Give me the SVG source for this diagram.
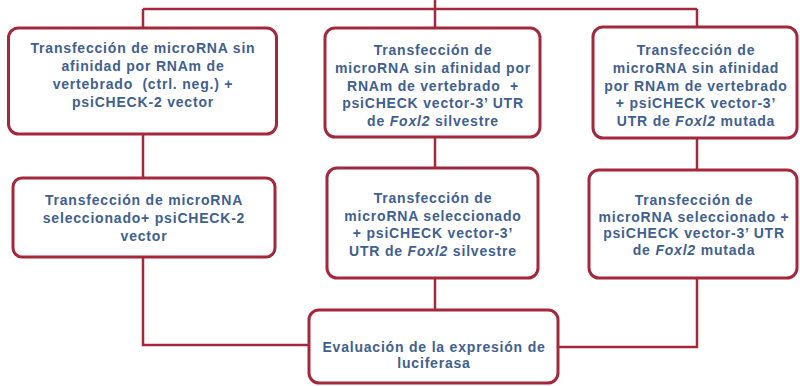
<svg xmlns="http://www.w3.org/2000/svg" width="800" height="386" viewBox="0 0 800 386">
<style>
.box{fill:#ffffff;stroke:#a3283c;stroke-width:3}
.ln{fill:none;stroke:#a3283c;stroke-width:2.5}
text{font-family:"Liberation Sans",Arial,sans-serif;font-weight:bold;font-size:14px;fill:#40608f;text-anchor:middle;letter-spacing:0.8px}
.it{font-style:italic}
</style>
<rect width="800" height="386" fill="#ffffff"/>
<g id="connectors">
<path class="ln" d="M143 9 H697 M435 0 V28 M143 9 V28 M697 9 V27"/>
<path class="ln" d="M143 134 V178 M435 137 V168 M697 138 V170"/>
<path class="ln" d="M143 257 V345 H309 M435 278 V310 M697 278 V347 H558"/>
</g>
<g id="n1">
<rect class="box" x="8.5" y="28" width="268" height="106" rx="10"/>
<text x="143" y="53">Transfección de microRNA sin</text>
<text x="143" y="71">afinidad por RNAm de</text>
<text x="143" y="89">vertebrado &#160;(ctrl. neg.) +</text>
<text x="143" y="107">psiCHECK-2 vector</text>
</g>
<g id="n2">
<rect class="box" x="325" y="28" width="215" height="109" rx="10"/>
<text x="433" y="55">Transfección de</text>
<text x="433" y="73">microRNA sin afinidad por</text>
<text x="433" y="91">RNAm de vertebrado &#160;+</text>
<text x="433" y="108">psiCHECK vector-3’ UTR</text>
<text x="433" y="126">de <tspan class="it">Foxl2</tspan> silvestre</text>
</g>
<g id="n3">
<rect class="box" x="593" y="27" width="204" height="111" rx="10"/>
<text x="696" y="55">Transfección de</text>
<text x="696" y="73">microRNA sin afinidad</text>
<text x="696" y="91">por RNAm de vertebrado</text>
<text x="696" y="108">+ psiCHECK vector-3’</text>
<text x="696" y="126">UTR de <tspan class="it">Foxl2</tspan> mutada</text>
</g>
<g id="n4">
<rect class="box" x="13" y="178" width="262" height="79" rx="9"/>
<text x="144" y="205">Transfección de microRNA</text>
<text x="144" y="223">seleccionado+ psiCHECK-2</text>
<text x="144" y="241">vector</text>
</g>
<g id="n5">
<rect class="box" x="327" y="168" width="211" height="110" rx="10"/>
<text x="433" y="203">Transfección de</text>
<text x="433" y="221">microRNA seleccionado</text>
<text x="433" y="238">+ psiCHECK vector-3’</text>
<text x="433" y="256">UTR de <tspan class="it">Foxl2</tspan> silvestre</text>
</g>
<g id="n6">
<rect class="box" x="589" y="170" width="208" height="108" rx="10"/>
<text x="694" y="205">Transfección de</text>
<text x="694" y="222">microRNA seleccionado +</text>
<text x="694" y="238">psiCHECK vector-3’ UTR</text>
<text x="694" y="255">de <tspan class="it">Foxl2</tspan> mutada</text>
</g>
<g id="n7">
<rect class="box" x="309" y="310" width="249" height="73" rx="10"/>
<text x="434" y="352">Evaluación de la expresión de</text>
<text x="434" y="368">luciferasa</text>
</g>
</svg>
